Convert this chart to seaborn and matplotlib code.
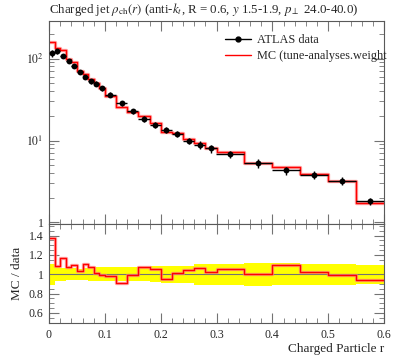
import numpy as np
import pandas as pd
import matplotlib
matplotlib.use("Agg")
import matplotlib.pyplot as plt
import seaborn as sns
from matplotlib.ticker import FixedLocator, MultipleLocator, NullFormatter, LogLocator
from matplotlib.lines import Line2D

# ---- data ----
bin_edges = [0.00, 0.01, 0.02, 0.03, 0.04, 0.05, 0.06, 0.07, 0.08, 0.09, 0.10,
             0.12, 0.14, 0.16, 0.18, 0.20, 0.22, 0.24, 0.26, 0.28, 0.30,
             0.35, 0.40, 0.45, 0.50, 0.55, 0.60]
data_vals = [116, 123, 108, 92.7, 81.5, 68.8, 59.1, 52.9, 49.1, 43.5,
             36.1, 28.3, 22.6, 18.4, 15.5, 13.5, 12.1, 9.95, 8.9, 8.0,
             6.8, 5.29, 4.31, 3.78, 3.25, 1.82]
data_rel_err = [0.11, 0.075, 0.065, 0.06, 0.06, 0.055, 0.06, 0.07, 0.07, 0.07,
                0.07, 0.07, 0.07, 0.075, 0.08, 0.09, 0.09, 0.09, 0.11, 0.11,
                0.11, 0.12, 0.115, 0.11, 0.11, 0.10]
mc_vals = [160, 134, 126, 100, 89.7, 70.9, 65.6, 56.6, 49.6, 43.3,
           35.4, 25.8, 22.4, 19.7, 16.3, 12.8, 12.2, 10.4, 9.43, 8.16,
           7.14, 5.29, 4.74, 3.86, 3.22, 1.71]
x_ticks = [0, 0.1, 0.2, 0.3, 0.4, 0.5, 0.6]
x_tick_labels = ["0", "0.1", "0.2", "0.3", "0.4", "0.5", "0.6"]
main_y_ticks = [1, 10, 100]
main_y_labels = ["1", "$10^1$", "$10^2$"]
ratio_y_ticks = [0.6, 0.8, 1.0, 1.2, 1.4]
ratio_y_labels = ["0.6", "0.8", "1", "1.2", "1.4"]
title = r"Charged jet $\rho_{\rm ch}(r)$ (anti-$k_t$, R = 0.6, $y$ 1.5-1.9, $p_\perp$ 24.0-40.0)"
legend_labels = ["ATLAS data", "MC (tune-analyses.weight"]

# ---- style ----
sns.set_theme(style="ticks")
plt.rcParams["font.family"] = ["Liberation Serif", "DejaVu Serif"]
plt.rcParams["mathtext.fontset"] = "stix"
plt.rcParams["axes.edgecolor"] = "0.35"
plt.rcParams["axes.linewidth"] = 0.8

edges = np.array(bin_edges)
centers = 0.5 * (edges[:-1] + edges[1:])
halfw = 0.5 * (edges[1:] - edges[:-1])
data = np.array(data_vals)
rel = np.array(data_rel_err)
mc = np.array(mc_vals)
ratio = mc / data

fig = plt.figure(figsize=(3.97, 3.58), dpi=100)
L, W = 49 / 397, 335 / 397
ax1 = fig.add_axes([L, 1 - 224 / 358, W, 203 / 358])
ax2 = fig.add_axes([L, 1 - 323 / 358, W, 99 / 358])

# ---- main panel ----
step_df = pd.DataFrame({"x": edges, "y": np.append(mc, mc[-1])})
ax1.set_yscale("log")
sns.lineplot(data=step_df, x="x", y="y", drawstyle="steps-post", color="#ff8080",
             lw=2.4, alpha=0.7, ax=ax1, estimator=None, legend=False)
sns.lineplot(data=step_df, x="x", y="y", drawstyle="steps-post", color="red",
             lw=1.0, ax=ax1, estimator=None, legend=False)
ax1.errorbar(centers, data, xerr=halfw, yerr=data * rel, fmt="none",
             ecolor="black", elinewidth=1.0, capsize=0)
pts = pd.DataFrame({"x": centers, "y": data})
sns.scatterplot(data=pts, x="x", y="y", color="black", s=18, edgecolor="black",
                linewidth=0, ax=ax1, legend=False, zorder=5)

ax1.set_xlim(0, 0.6)
ax1.set_ylim(0.958, 287)
ax1.set_xlabel("")
ax1.set_ylabel("")
ax1.yaxis.set_major_locator(FixedLocator(main_y_ticks))
ax1.set_yticklabels(main_y_labels)
ax1.yaxis.set_minor_locator(LogLocator(base=10, subs=np.arange(2, 10)))
ax1.yaxis.set_minor_formatter(NullFormatter())
ax1.xaxis.set_major_locator(FixedLocator(x_ticks))
ax1.xaxis.set_minor_locator(MultipleLocator(0.02))
ax1.tick_params(axis="x", labelbottom=False)

h_data = Line2D([], [], color="black", lw=1.0, marker="o", markersize=3.5)
h_mc = Line2D([], [], color="red", lw=1.0)
ax1.legend([h_data, h_mc], legend_labels, loc="upper left",
           bbox_to_anchor=(0.525, 0.935), frameon=False, fontsize=8.8,
           handlelength=2.1, handletextpad=0.5, labelspacing=0.35,
           borderaxespad=0, borderpad=0)

# ---- ratio panel ----
lo = np.append(1 - rel, 1 - rel[-1])
hi = np.append(1 + rel, 1 + rel[-1])
ax2.fill_between(edges, lo, hi, step="post", color="#ffff00", lw=0)
ax2.axhline(1.0, color="0.45", lw=0.8)
ratio_df = pd.DataFrame({"x": edges, "y": np.append(ratio, ratio[-1])})
sns.lineplot(data=ratio_df, x="x", y="y", drawstyle="steps-post", color="#ff8080",
             lw=2.4, alpha=0.7, ax=ax2, estimator=None, legend=False)
sns.lineplot(data=ratio_df, x="x", y="y", drawstyle="steps-post", color="red",
             lw=1.0, ax=ax2, estimator=None, legend=False)
ax2.set_xlim(0, 0.6)
ax2.set_ylim(0.495, 1.52)
ax2.yaxis.set_major_locator(FixedLocator(ratio_y_ticks))
ax2.set_yticklabels(ratio_y_labels)
ax2.yaxis.set_minor_locator(MultipleLocator(0.05))
ax2.xaxis.set_major_locator(FixedLocator(x_ticks))
ax2.set_xticklabels(x_tick_labels)
ax2.xaxis.set_minor_locator(MultipleLocator(0.02))
ax2.set_xlabel("Charged Particle r", fontsize=9.5, loc="right", labelpad=2)
ax2.set_ylabel("MC / data", fontsize=9.5, labelpad=4)

for ax in (ax1, ax2):
    ax.tick_params(which="both", direction="in", top=True, right=True,
                   color="0.45", labelsize=8.5, pad=4)
    ax.tick_params(which="major", length=7, width=0.8)
    ax.tick_params(which="minor", length=3.5, width=0.6)

fig.text(L, 1 - 10 / 358, title, ha="left", va="center", fontsize=9.3)

fig.savefig("out.png", dpi=100)
